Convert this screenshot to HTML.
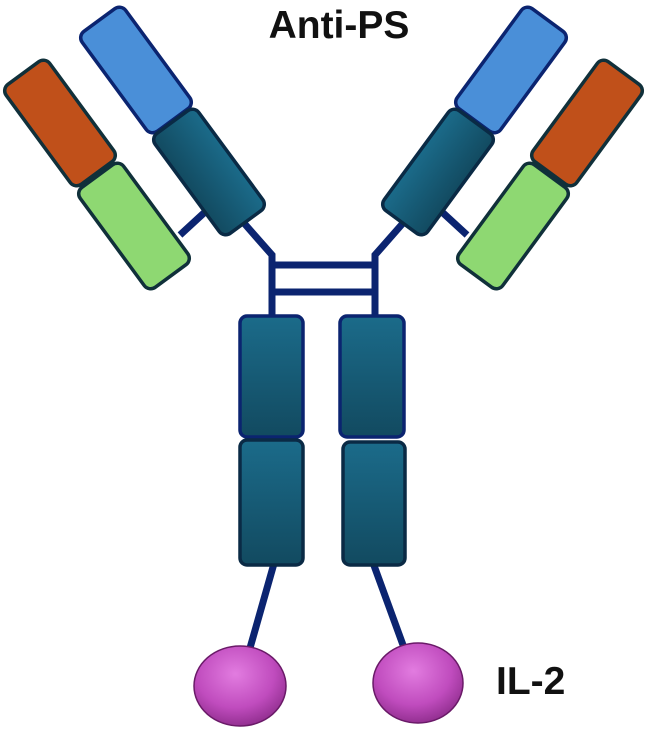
<!DOCTYPE html>
<html><head><style>html,body{margin:0;padding:0;background:#fff;}svg{display:block}</style></head>
<body>
<svg width="651" height="729" viewBox="0 0 651 729" xmlns="http://www.w3.org/2000/svg">
<defs>
<linearGradient id="tg" x1="0" y1="0" x2="0" y2="1"><stop offset="0" stop-color="#1b6b8a"/><stop offset="1" stop-color="#124a60"/></linearGradient>
<radialGradient id="mg" cx="0.45" cy="0.35" r="0.7"><stop offset="0" stop-color="#e27ce0"/><stop offset="0.6" stop-color="#c04cbe"/><stop offset="1" stop-color="#8a2a88"/></radialGradient>
<g id="arm">
  <line x1="180" y1="235" x2="205" y2="212" stroke="#0b2470" stroke-width="7"/>
  <polyline points="243,222 272,255 272,316" fill="none" stroke="#0b2470" stroke-width="7"/>
  <g transform="translate(136,70) rotate(53.7)"><rect x="-62" y="-27" width="124" height="54" rx="8" fill="#4a8fd8" stroke="#0b2470" stroke-width="3.5"/></g>
  <g transform="translate(209,172) rotate(53.7)"><rect x="-62" y="-27" width="124" height="54" rx="8" fill="url(#tg)" stroke="#0a2a45" stroke-width="3.5"/></g>
  <g transform="translate(60,123) rotate(53.7)"><rect x="-62" y="-27" width="124" height="54" rx="8" fill="#c0501a" stroke="#10303a" stroke-width="3.5"/></g>
  <g transform="translate(134,226) rotate(53.7)"><rect x="-62" y="-27" width="124" height="54" rx="8" fill="#8ed872" stroke="#10303a" stroke-width="3.5"/></g>
</g>
</defs>
<use href="#arm"/>
<use href="#arm" transform="translate(647,0) scale(-1,1)"/>
<line x1="272" y1="265" x2="375" y2="265" stroke="#0b2470" stroke-width="7"/>
<line x1="272" y1="292" x2="375" y2="292" stroke="#0b2470" stroke-width="7"/>
<line x1="275" y1="560" x2="250" y2="648" stroke="#0b2470" stroke-width="7"/>
<line x1="372" y1="560" x2="403" y2="645" stroke="#0b2470" stroke-width="7"/>
<rect x="240" y="316" width="63" height="121" rx="7" fill="url(#tg)" stroke="#0b2470" stroke-width="3.5"/>
<rect x="240" y="440" width="63" height="125" rx="7" fill="url(#tg)" stroke="#0a2a45" stroke-width="3.5"/>
<rect x="340" y="316" width="64" height="121" rx="7" fill="url(#tg)" stroke="#0b2470" stroke-width="3.5"/>
<rect x="343" y="442" width="62" height="123" rx="7" fill="url(#tg)" stroke="#0a2a45" stroke-width="3.5"/>
<ellipse cx="240" cy="686" rx="46" ry="40" fill="url(#mg)" stroke="#6a1a68" stroke-width="1.5"/>
<ellipse cx="418" cy="683" rx="45" ry="40" fill="url(#mg)" stroke="#6a1a68" stroke-width="1.5"/>
<text x="339" y="38" text-anchor="middle" font-family="Liberation Sans, sans-serif" font-weight="bold" font-size="39" fill="#111">Anti-PS</text>
<text x="496" y="694" font-family="Liberation Sans, sans-serif" font-weight="bold" font-size="39" fill="#111">IL-2</text>
</svg>
</body></html>
